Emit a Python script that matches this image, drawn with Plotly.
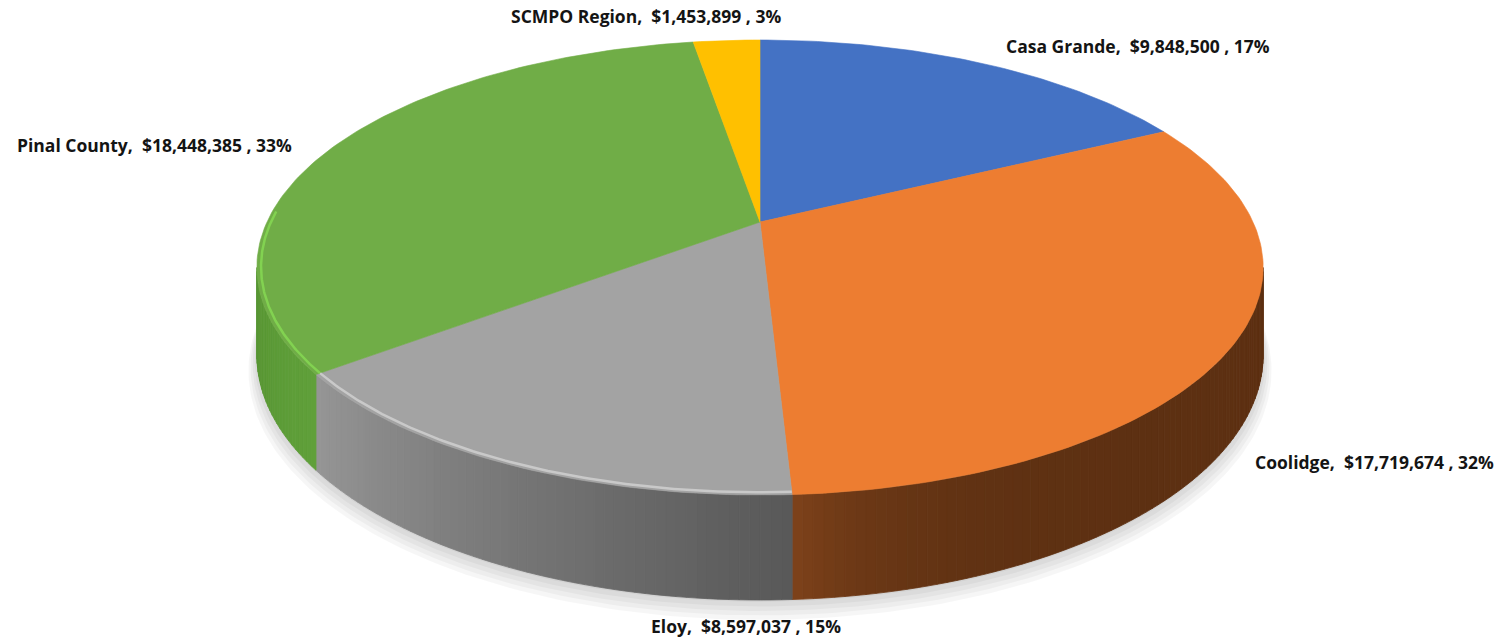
import numpy as np
import plotly.graph_objects as go

# ---------------- data ----------------
categories = ["Casa Grande", "Coolidge", "Eloy", "Pinal County", "SCMPO Region"]
values = [9848500, 17719674, 8597037, 18448385, 1453899]
pct_labels = [17, 32, 15, 33, 3]

# ---------------- style ----------------
top_colors = ["#4472C4", "#ED7D31", "#A3A3A3", "#70AD47", "#FFC000"]
# side shading: (left colour, right colour, falloff) per slice
side_shade = [
    ((50, 85, 150), (40, 70, 130), 1.0),
    ((126, 66, 26), (93, 48, 18), 9.0),
    ((150, 150, 150), (88, 88, 88), 1.0),
    ((86, 148, 50), (96, 160, 58), 1.0),
    ((200, 150, 0), (180, 135, 0), 1.0),
]
rim_highlight = [None, None, "#C9C9C9", "#82D251", None]
label_pos = [(1138, 46), (1374, 462), (746, 626), (154, 145), (646, 16)]
FONT = "Open Sans"

W, HGT = 1510, 640
CX, CY, A, B, K, H = 760.0, 222.0, 493.0, 218.4, 0.2, 84.0


def proj(th, z=0.0, r=1.0):
    u = r * np.cos(th)
    v = r * np.sin(th)
    d = 1 + K * v
    return CX + A * u / d, CY + (-B * v + z) / d


def rgb(c):
    return "rgb(%d,%d,%d)" % tuple(int(round(x)) for x in c)


fig = go.Figure()

# ---------------- soft shadow ----------------
full = np.linspace(0, 2 * np.pi, 361)
for i, (dy, sc) in enumerate([(2, 1.000), (5, 1.004), (8, 1.008), (11, 1.012), (14, 1.016)]):
    xs, ys = proj(full, H, sc)
    fig.add_trace(go.Scatter(
        x=xs, y=ys + dy, mode="lines", fill="toself",
        fillcolor="rgba(0,0,0,0.035)", line=dict(width=0),
        hoverinfo="skip", showlegend=False))

total = float(sum(values))
frac = np.array(values, dtype=float) / total
cum = np.concatenate([[0.0], np.cumsum(frac)])
starts = np.pi / 2 - 2 * np.pi * cum[:-1]
ends = np.pi / 2 - 2 * np.pi * cum[1:]

vis_lo = -(np.pi - np.arcsin(K))   # left silhouette
vis_hi = -np.arcsin(K)             # right silhouette

# ---------------- side walls ----------------
for i in range(len(values)):
    lo = max(ends[i], vis_lo)
    hi = min(starts[i], vis_hi)
    if hi <= lo:
        continue
    n = max(2, int(np.degrees(hi - lo) / 1.0) + 1)
    ang = np.linspace(lo, hi, n + 1)
    cl, cr, fall = side_shade[i]
    for j in range(n):
        a0, a1 = ang[j], ang[j + 1]
        t = (0.5 * (a0 + a1) - lo) / (hi - lo)
        if fall != 1.0:
            w = np.exp(-fall * t)
            col = [cr[c] + (cl[c] - cr[c]) * w for c in range(3)]
        else:
            col = [cl[c] + (cr[c] - cl[c]) * t for c in range(3)]
        seg = np.array([a0, a1])
        xt, yt = proj(seg, 0.0)
        xb, yb = proj(seg[::-1], H)
        xs = np.concatenate([xt, xb, xt[:1]])
        ys = np.concatenate([yt, yb, yt[:1]])
        fig.add_trace(go.Scatter(
            x=xs, y=ys, mode="lines", fill="toself", fillcolor=rgb(col),
            line=dict(width=0.8, color=rgb(col)),
            hoverinfo="skip", showlegend=False))

# ---------------- top faces ----------------
for i in range(len(values)):
    n = max(4, int(abs(np.degrees(starts[i] - ends[i]))) + 1)
    ang = np.linspace(starts[i], ends[i], n)
    xa, ya = proj(ang, 0.0)
    xs = np.concatenate([[CX], xa, [CX]])
    ys = np.concatenate([[CY], ya, [CY]])
    fig.add_trace(go.Scatter(
        x=xs, y=ys, mode="lines", fill="toself", fillcolor=top_colors[i],
        line=dict(width=0.6, color=top_colors[i]),
        hoverinfo="skip", showlegend=False, name=categories[i]))

# ---------------- rim highlights ----------------
for i in range(len(values)):
    if rim_highlight[i] is None:
        continue
    lo = max(ends[i], vis_lo - 0.25)
    hi = min(starts[i], vis_hi)
    if hi <= lo:
        continue
    ang = np.linspace(lo, hi, 120)
    xs, ys = proj(ang, 0.0, 0.992)
    fig.add_trace(go.Scatter(
        x=xs, y=ys, mode="lines", line=dict(width=2.5, color=rim_highlight[i]),
        hoverinfo="skip", showlegend=False))

# ---------------- labels ----------------
for i, name in enumerate(categories):
    txt = "<b>%s, \u00a0$%s , %d%%</b>" % (name, format(values[i], ","), pct_labels[i])
    fig.add_annotation(x=label_pos[i][0], y=label_pos[i][1], text=txt,
                       showarrow=False, xanchor="center", yanchor="middle",
                       font=dict(family=FONT, size=17.5, color="#141414"))

fig.update_layout(
    width=W, height=HGT, margin=dict(l=0, r=0, t=0, b=0),
    paper_bgcolor="white", plot_bgcolor="white",
    xaxis=dict(range=[0, W], visible=False, fixedrange=True),
    yaxis=dict(range=[HGT, 0], visible=False, fixedrange=True),
    showlegend=False,
)

fig.write_html("out.html", config={"displayModeBar": False},
               post_script="document.body.style.margin='0';")
